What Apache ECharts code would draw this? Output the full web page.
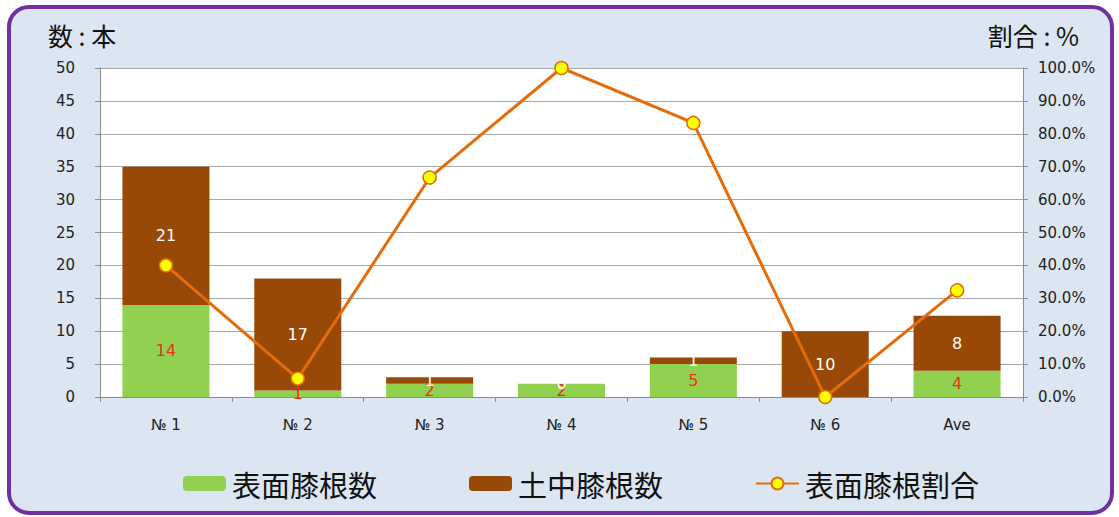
<!DOCTYPE html>
<html>
<head>
<meta charset="utf-8">
<script src="https://cdn.jsdelivr.net/npm/echarts@6/dist/echarts.min.js"></script>
<style>
html,body{margin:0;padding:0;background:#fff;}
#frame{position:absolute;left:7px;top:5px;width:1099px;height:502px;border:4px solid #7030a0;border-radius:22px;background:#dce6f2;}
#chart{position:absolute;left:0;top:0;width:1119px;height:517px;}
</style>
</head>
<body>
<div id="frame"></div>
<div id="chart"></div>
<script>
const categories = ['№ 1', '№ 2', '№ 3', '№ 4', '№ 5', '№ 6', 'Ave'];
const surfaceCount = [14, 1, 2, 2, 5, 0, 4];
const soilCount = [21, 17, 1, 0, 1, 10, 8.33];
const surfaceRatio = [40.0, 5.6, 66.7, 100.0, 83.3, 0.0, 32.4];
const leftTicks = {min: 0, max: 50, interval: 5};
const rightTicks = {min: 0, max: 100, interval: 10};

const font = 'DejaVu Sans';
const cjk = '"Noto Sans CJK JP"';
const chart = echarts.init(document.getElementById('chart'), null, {renderer: 'svg'});
chart.setOption({
  backgroundColor: 'transparent',
  animation: false,
  grid: {left: 100, right: 96, top: 68, bottom: 120, show: true, backgroundColor: '#ffffff', borderWidth: 0},
  graphic: [
    {type: 'text', left: 48, top: 22, style: {text: '数 : 本', font: '25px ' + cjk, fill: '#111'}},
    {type: 'text', right: 40, top: 22, style: {text: '割合 : %', font: '25px ' + cjk, fill: '#111'}}
  ],
  legend: {
    left: 178, top: 464,
    itemWidth: 43, itemHeight: 15, itemGap: 92,
    textStyle: {fontFamily: cjk, fontSize: 29, color: '#111', padding: [0, 0, 0, 1]},
    data: ['表面膝根数', '土中膝根数', '表面膝根割合']
  },
  xAxis: {
    type: 'category', data: categories,
    axisLine: {lineStyle: {color: '#8c8c8c'}},
    axisTick: {show: true, length: 5, lineStyle: {color: '#8c8c8c'}},
    axisLabel: {fontFamily: font, fontSize: 15, color: '#222', margin: 20}
  },
  yAxis: [
    {
      type: 'value', min: leftTicks.min, max: leftTicks.max, interval: leftTicks.interval,
      axisLine: {show: true, lineStyle: {color: '#8c8c8c'}},
      axisTick: {show: true, length: 5, lineStyle: {color: '#8c8c8c'}},
      splitLine: {lineStyle: {color: '#a6a6a6'}},
      axisLabel: {fontFamily: font, fontSize: 15, color: '#222', margin: 25}
    },
    {
      type: 'value', min: rightTicks.min, max: rightTicks.max, interval: rightTicks.interval,
      axisLine: {show: true, lineStyle: {color: '#8c8c8c'}},
      axisTick: {show: true, length: 5, lineStyle: {color: '#8c8c8c'}},
      splitLine: {show: false},
      axisLabel: {fontFamily: font, fontSize: 15, color: '#222', margin: 15, formatter: v => v.toFixed(1) + '%'}
    }
  ],
  series: [
    {
      name: '表面膝根数', type: 'bar', stack: 'a', data: surfaceCount, barWidth: '66%',
      itemStyle: {color: '#92d050'},
      label: {show: true, position: 'inside', color: '#e8321c', fontFamily: font, fontSize: 16, formatter: p => Math.round(p.value)}
    },
    {
      name: '土中膝根数', type: 'bar', stack: 'a', data: soilCount, barWidth: '66%',
      itemStyle: {color: '#984807'},
      label: {show: true, position: 'inside', color: '#ffffff', fontFamily: font, fontSize: 16, formatter: p => Math.round(p.value)}
    },
    {
      name: '表面膝根割合', type: 'line', yAxisIndex: 1, data: surfaceRatio, z: 5,
      symbol: 'circle', symbolSize: 13,
      lineStyle: {color: '#e46c0a', width: 3},
      itemStyle: {color: '#ffff00', borderColor: '#e46c0a', borderWidth: 1.5}
    }
  ]
});
</script>
</body>
</html>
